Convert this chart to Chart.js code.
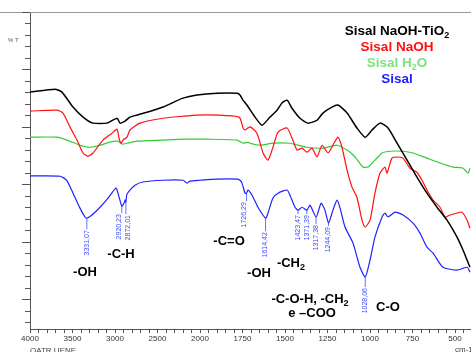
<!DOCTYPE html>
<html>
<head>
<meta charset="utf-8">
<script src="https://cdn.jsdelivr.net/npm/chart.js@4.4.1/dist/chart.umd.min.js"></script>
<style>
  body { margin: 0; background: #fff; }
  #wrap { position: relative; width: 471px; height: 352px; }
</style>
</head>
<body>
<div id="wrap"><canvas id="ftir"></canvas></div>
<script>
// wavenumbers (cm-1) and transmittance (%T)
const tio2Wn = [4000, 3706, 3624, 3494, 3376, 3259, 3094, 2976, 2941, 2882, 2824, 2624, 2435, 2200, 2035, 1900, 1782, 1765, 1747, 1724, 1676, 1635, 1588, 1547, 1518, 1488, 1459, 1412, 1365, 1312, 1277, 1224, 1188, 1135, 1077, 1029, 988, 941, 894, 841, 782, 724, 665, 606, 547, 488, 453, 429, 412];
const tio2T = [72.1, 73.1, 72.1, 66.9, 63.4, 61.3, 61.3, 63.0, 61.3, 62.0, 63.4, 65.1, 66.9, 70.0, 71.1, 71.7, 71.7, 71.1, 69.3, 67.6, 63.4, 60.6, 63.4, 65.8, 68.3, 69.3, 66.5, 63.0, 61.3, 62.3, 64.8, 66.9, 67.6, 64.8, 59.6, 56.4, 58.9, 61.3, 59.6, 54.3, 48.4, 42.5, 36.9, 32.0, 27.5, 21.6, 17.1, 13.6, 11.1];

const naohWn = [4000, 3682, 3612, 3529, 3447, 3376, 3318, 3259, 3141, 3035, 2976, 2953, 2929, 2906, 2859, 2824, 2706, 2435, 2200, 2035, 1900, 1770, 1753, 1747, 1735, 1706, 1665, 1629, 1600, 1571, 1541, 1488, 1459, 1429, 1400, 1371, 1341, 1312, 1282, 1247, 1212, 1188, 1165, 1135, 1106, 1077, 1047, 1029, 1000, 971, 941, 912, 900, 871, 841, 806, 765, 724, 694, 665, 629, 588, 559, 529, 488, 459, 429, 412];
const naohT = [65.5, 65.8, 64.8, 59.9, 55.4, 50.9, 49.8, 50.9, 55.4, 57.8, 59.2, 56.1, 54.3, 55.4, 56.4, 58.9, 61.3, 63.0, 63.7, 64.1, 64.1, 63.4, 61.0, 59.6, 58.9, 60.0, 57.8, 50.9, 48.4, 52.9, 58.2, 59.6, 56.1, 51.9, 52.6, 51.2, 52.6, 49.5, 53.6, 50.9, 54.3, 56.4, 52.9, 44.9, 39.0, 35.5, 27.5, 25.1, 27.5, 36.9, 43.9, 46.0, 43.9, 49.1, 49.5, 49.1, 45.6, 44.2, 41.4, 38.0, 34.5, 32.0, 28.6, 29.3, 30.0, 30.3, 27.5, 24.7];

const h2oWn = [4000, 3682, 3565, 3412, 3294, 3176, 3059, 2965, 2918, 2859, 2741, 2435, 2200, 1959, 1782, 1747, 1718, 1706, 1647, 1571, 1471, 1371, 1277, 1194, 1135, 1088, 1041, 1012, 971, 929, 882, 806, 747, 665, 588, 512, 453, 423, 412];
const h2oT = [56.4, 56.4, 55.4, 53.6, 52.9, 53.6, 54.7, 55.0, 54.0, 54.3, 55.0, 55.4, 55.7, 55.7, 55.4, 54.3, 54.7, 54.3, 53.6, 54.3, 54.3, 52.9, 52.6, 53.6, 51.9, 49.5, 46.0, 46.0, 48.4, 50.9, 51.5, 51.5, 50.9, 49.1, 47.4, 46.0, 45.6, 43.9, 45.6];

const sisalWn = [4000, 3647, 3568, 3494, 3412, 3353, 3331, 3271, 3176, 3082, 2988, 2965, 2920, 2895, 2880, 2872, 2860, 2824, 2765, 2671, 2435, 2200, 2153, 2118, 2000, 1900, 1782, 1765, 1753, 1735, 1726, 1718, 1694, 1659, 1614, 1600, 1571, 1541, 1488, 1471, 1441, 1423, 1400, 1371, 1353, 1317, 1288, 1265, 1244, 1218, 1194, 1176, 1147, 1100, 1059, 1028, 1000, 971, 929, 912, 894, 853, 806, 747, 706, 665, 629, 571, 488, 429, 412];
const sisalT = [42.9, 42.8, 41.4, 36.9, 31.7, 28.6, 28.2, 29.3, 32.0, 35.2, 38.7, 36.9, 32.4, 33.4, 34.5, 33.8, 36.5, 38.0, 39.7, 40.8, 41.4, 41.4, 40.4, 41.1, 41.4, 41.8, 41.8, 41.4, 40.4, 36.9, 36.9, 38.0, 36.2, 32.0, 28.2, 30.0, 35.2, 36.9, 38.0, 36.2, 32.0, 31.0, 32.0, 31.0, 32.7, 28.6, 33.4, 31.0, 26.5, 31.0, 34.5, 31.7, 25.1, 19.5, 11.1, 7.7, 13.6, 21.6, 28.6, 30.0, 28.6, 30.3, 29.3, 26.5, 23.0, 18.1, 16.0, 11.1, 10.1, 11.1, 9.4];

const seriesNames = ['Sisal NaOH-TiO2', 'Sisal NaOH', 'Sisal H2O', 'Sisal'];

// labelled Sisal peaks
const peakText = ['3331,07', '2920,23', '2872,01', '1726,29', '1614,42', '1423,47', '1371,39', '1317,38', '1244,09', '1028,06'];
const peakWn = [3331.07, 2920.23, 2872.01, 1726.29, 1614.42, 1423.47, 1371.39, 1317.38, 1244.09, 1028.06];
const peakT = [28.2, 32.4, 33.8, 36.9, 28.2, 31.0, 31.0, 28.6, 26.5, 7.7];

// band assignments [text, subscript part, trailing text], wavenumber, %T
const bandText = [['-OH'], ['-C-H'], ['-C=O'], ['-OH'], ['-CH', '2'], ['-C-O-H, -CH', '2'], ['e \u2013COO'], ['C-O']];
const bandWn = [3353, 2929, 1829, 1653, 1465, 1353, 1341, 894];
const bandT = [9.4, 15.7, 20.2, 9.1, 12.5, 0, -4.9, -2.8];

const xTicks = [4000, 3500, 3000, 2500, 2000, 1750, 1500, 1250, 1000, 750, 500];

// the x axis is compressed by half above 2000 cm-1
const toAxis = w => w > 2000 ? 2000 + (w - 2000) / 2 : w;
const fromAxis = t => t > 2000 ? 2000 + (t - 2000) * 2 : t;

const pts = (wn, t) => wn.map((w, i) => ({ x: toAxis(w), y: t[i] }));

const FONT = 'Arial, "Liberation Sans", sans-serif';

function drawRich(ctx, parts, cx, cy, size, color) {
  ctx.save();
  ctx.fillStyle = color;
  ctx.textBaseline = 'middle';
  ctx.textAlign = 'left';
  const big = 'bold ' + size + 'px ' + FONT;
  const small = 'bold ' + Math.round(size * 0.7) + 'px ' + FONT;
  let w = 0;
  parts.forEach((p, i) => { ctx.font = i % 2 ? small : big; w += ctx.measureText(p).width; });
  let x = cx - w / 2;
  parts.forEach((p, i) => {
    ctx.font = i % 2 ? small : big;
    ctx.fillText(p, x, i % 2 ? cy + size * 0.3 : cy);
    x += ctx.measureText(p).width;
  });
  ctx.restore();
}

const decor = {
  id: 'decor',
  afterDraw(chart) {
    const { ctx, chartArea, scales } = chart;
    const x = scales.x, y = scales.y;

    // top frame line
    ctx.save();
    ctx.strokeStyle = '#999';
    ctx.lineWidth = 1;
    ctx.beginPath();
    ctx.moveTo(0, chartArea.top + 0.5);
    ctx.lineTo(chart.width, chartArea.top + 0.5);
    ctx.stroke();

    // %T axis ticks, longer every 20
    ctx.strokeStyle = '#555';
    ctx.beginPath();
    y.ticks.forEach(t => {
      const py = Math.round(y.getPixelForValue(t.value)) + 0.5;
      ctx.moveTo(chartArea.left - (t.value % 20 === 0 ? 8 : 5), py);
      ctx.lineTo(chartArea.left, py);
    });
    ctx.stroke();

    ctx.fillStyle = '#555';
    ctx.font = '6px ' + FONT;
    ctx.textAlign = 'left';
    ctx.textBaseline = 'middle';
    ctx.fillText('% T', 8, 40);

    ctx.fillStyle = '#444';
    ctx.font = '8px ' + FONT;
    ctx.textBaseline = 'top';
    ctx.fillText('OATR UENE', 30, 347);
    ctx.fillText('cm-1', 455, 346);
    ctx.restore();

    // peak labels along Sisal
    const lead = [11, 7, 12, 8, 13, 4, 4, 7, 3, 10];
    const shift = [0, -3, 2, -2, 0, 0, 0, 0, 0, 0];
    ctx.save();
    ctx.strokeStyle = '#3a4cff';
    ctx.fillStyle = '#3a4cff';
    ctx.lineWidth = 0.8;
    ctx.font = '7px ' + FONT;
    peakWn.forEach((w, i) => {
      const px = x.getPixelForValue(toAxis(w));
      const py = y.getPixelForValue(peakT[i]);
      ctx.beginPath();
      ctx.moveTo(px, py);
      ctx.lineTo(px, py + lead[i]);
      ctx.stroke();
      ctx.save();
      ctx.translate(px + shift[i], py + lead[i] + 1);
      ctx.rotate(-Math.PI / 2);
      ctx.textAlign = 'right';
      ctx.textBaseline = 'middle';
      ctx.fillText(peakText[i], 0, 0);
      ctx.restore();
    });
    ctx.restore();

    // band assignments
    bandText.forEach((parts, i) => {
      drawRich(ctx, parts, x.getPixelForValue(toAxis(bandWn[i])), y.getPixelForValue(bandT[i]), 13, '#000');
    });

    // legend
    const colors = chart.data.datasets.map(d => d.borderColor);
    const legendParts = [['Sisal NaOH-TiO', '2'], ['Sisal NaOH'], ['Sisal H', '2', 'O'], ['Sisal']];
    legendParts.forEach((parts, i) => {
      drawRich(ctx, parts, 397, 31 + i * 16, 13.5, i === 2 ? '#7ee07e' : colors[i]);
    });
  }
};

const lineStyle = { pointRadius: 0, borderWidth: 1.2, tension: 0.2, fill: false };

new Chart(document.getElementById('ftir'), {
  type: 'line',
  data: {
    datasets: [
      Object.assign({ label: seriesNames[0], data: pts(tio2Wn, tio2T), borderColor: '#000000' }, lineStyle, { borderWidth: 1.5 }),
      Object.assign({ label: seriesNames[1], data: pts(naohWn, naohT), borderColor: '#ff1010' }, lineStyle),
      Object.assign({ label: seriesNames[2], data: pts(h2oWn, h2oT), borderColor: '#33cc33' }, lineStyle),
      Object.assign({ label: seriesNames[3], data: pts(sisalWn, sisalT), borderColor: '#2020ff' }, lineStyle)
    ]
  },
  options: {
    responsive: true,
    maintainAspectRatio: false,
    animation: false,
    layout: { padding: { top: 12, right: 0, left: 0, bottom: 0 } },
    plugins: { legend: { display: false }, tooltip: { enabled: false } },
    scales: {
      x: {
        type: 'linear',
        reverse: true,
        min: 406,
        max: 3000,
        afterBuildTicks: scale => {
          const ticks = [];
          for (let t = 3000; t >= 450; t -= 50) ticks.push({ value: t });
          scale.ticks = ticks;
        },
        afterFit: scale => { scale.height = 23; },
        ticks: {
          autoSkip: false,
          maxRotation: 0,
          padding: 1,
          color: '#333',
          font: { family: FONT, size: 8 },
          callback: v => xTicks.includes(fromAxis(v)) ? String(fromAxis(v)) : ''
        },
        grid: { drawOnChartArea: false, drawTicks: true, tickLength: 4, color: '#555' },
        border: { color: '#555', width: 1 }
      },
      y: {
        min: -10.4,
        max: 100,
        afterBuildTicks: scale => {
          const ticks = [];
          for (let v = -8; v <= 100; v += 4) ticks.push({ value: v });
          scale.ticks = ticks;
        },
        afterFit: scale => { scale.width = 30; },
        ticks: { display: false },
        grid: { display: false },
        border: { display: true, color: '#555', width: 1 }
      }
    }
  },
  plugins: [decor]
});
</script>
</body>
</html>
